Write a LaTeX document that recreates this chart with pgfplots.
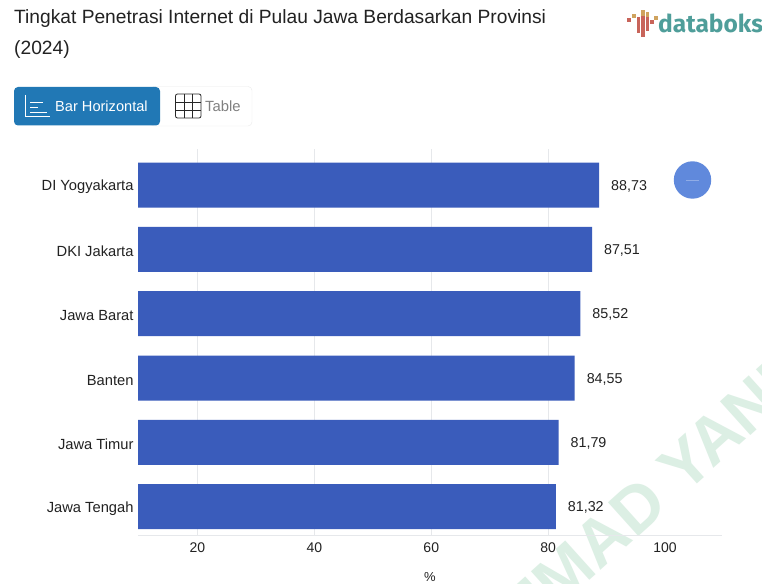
\documentclass[border=0pt]{standalone}
\usepackage{pgfplots}
\usepackage{fontspec}
\setmainfont{Liberation Sans}
\newfontfamily\logofont{Fira Sans}
\pgfplotsset{compat=1.18}
\definecolor{barblue}{HTML}{3A5CBB}
\definecolor{btnblue}{HTML}{2178B5}
\definecolor{ink}{HTML}{222222}
\definecolor{gridc}{HTML}{E6E8EB}
\definecolor{teal}{HTML}{4F9E9A}
\definecolor{logored}{HTML}{C8645A}
\definecolor{logogold}{HTML}{CFA35E}
\definecolor{wm}{HTML}{DCEFE4}
\definecolor{dot}{HTML}{6089DC}
\begin{document}
\begin{tikzpicture}[x=1pt,y=1pt]
% page frame
\path[use as bounding box] (0,0) rectangle (762,583);
\clip (0,0) rectangle (762,583);
\fill[white] (0,0) rectangle (762,583);
% diagonal watermark behind the plot
\node[rotate=42,text=wm,font=\fontsize{66}{66}\selectfont\bfseries,inner sep=0] at (569,14) {MUHAMMAD YANI};
% title
\node[anchor=west,text=ink,font=\fontsize{19.2}{22}\selectfont,inner sep=0] at (14,564) {Tingkat Penetrasi Internet di Pulau Jawa Berdasarkan Provinsi};
\node[anchor=west,text=ink,font=\fontsize{19.2}{22}\selectfont,inner sep=0] at (14,533) {(2024)};
% view switch
\draw[rounded corners=4,draw=black!8,fill=white] (150,457) rectangle (252,496.5);
\fill[rounded corners=4,btnblue] (14,457.5) rectangle (160,496);
\draw[white,line width=0.8] (25.5,488) -- (25.5,467) -- (50,467);
\draw[white,line width=0.8] (30,481) -- (43,481) (30,476) -- (38,476) (30,471) -- (47,471);
\node[anchor=west,white,font=\fontsize{14.6}{16}\selectfont,inner sep=0] at (55,476.5) {Bar Horizontal};
\draw[black!85,line width=0.8,rounded corners=2] (175.5,465) rectangle (201,489);
\draw[black!85,line width=0.8] (184,465)--(184,489) (192.5,465)--(192.5,489) (175.5,473)--(201,473) (175.5,481)--(201,481);
\node[anchor=west,text=black!50,font=\fontsize{14.8}{16}\selectfont,inner sep=0] at (205,476.5) {Table};
% logo mark
\foreach \x/\a/\b/\c in {629/561/565/logored,634/565/569/logogold,638.5/550/566/logored,643/546/567/logored,643/567/573/logogold,647.5/552/566/logored,647.5/566/571/logogold,652/559/563/logored,656/563/567/logogold}{
  \fill[\c] (\x-1.7,\a) rectangle (\x+1.7,\b);}
\node[anchor=west,text=teal,font=\logofont\fontsize{24.5}{28}\selectfont\bfseries,inner sep=0] at (658,560) {databoks};
% floating circle
\fill[dot] (692.5,403) circle (18.7);
\draw[white,opacity=0.3,line width=0.4] (686,403)--(699,403);
\begin{axis}[
  at={(138pt,48pt)},anchor=south west,
  scale only axis,width=584pt,height=386pt,
  xmin=9.82,xmax=109.75,
  ymin=-0.56,ymax=5.44,
  y dir=reverse,
  xbar,bar width=45pt,bar shift=0pt,
  axis line style={draw=none},
  major tick length=0pt,
  xtick={100},
  extra x ticks={20,40,60,80},
  extra x tick style={grid=major,grid style={gridc,line width=0.7pt}},
  ytick={0,1,2,3,4,5},
  yticklabels={DI Yogyakarta,DKI Jakarta,Jawa Barat,Banten,Jawa Timur,Jawa Tengah},
  tick label style={text=ink,font=\fontsize{14}{16}\selectfont},
  yticklabel style={font=\fontsize{14.7}{16}\selectfont,xshift=-1pt,yshift=-2pt},
  xticklabel style={yshift=-4pt},
  /pgf/number format/assume math mode=true,
  xlabel={\%},xlabel style={text=ink,font=\fontsize{13}{16}\selectfont,yshift=-13pt},
  nodes near coords,
  nodes near coords style={text=ink,font=\fontsize{14.3}{16}\selectfont,xshift=8.5pt,yshift=-1pt,
    /pgf/number format/.cd,fixed,fixed zerofill,precision=2,use comma,assume math mode=true},
  clip=false,
]
\addplot[draw=none,fill=barblue] coordinates {(88.73,0) (87.51,1) (85.52,2) (84.55,3) (81.79,4) (81.32,5)};
\draw[gridc,line width=0.7pt] (axis cs:9.82,5.44) -- (axis cs:109.75,5.44);
\end{axis}
\end{tikzpicture}
\end{document}
